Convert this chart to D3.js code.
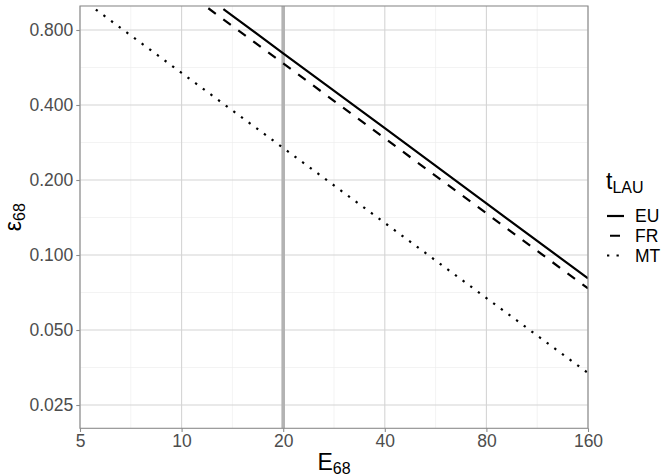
<!DOCTYPE html>
<html>
<head>
<meta charset="utf-8">
<title>epsilon vs E</title>
<script src="https://cdn.jsdelivr.net/npm/d3@7"></script>
<style>
  body { margin: 0; padding: 0; background: #fff; }
  svg text { font-family: "Liberation Sans", Arial, sans-serif; }
</style>
</head>
<body>
<svg id="chart" width="664" height="476"></svg>
<script>

// data
var xTicks = [5, 10, 20, 40, 80, 160];
var yTicks = [0.025, 0.05, 0.1, 0.2, 0.4, 0.8];
var yTickLabels = ['0.025', '0.050', '0.100', '0.200', '0.400', '0.800'];
var seriesNames = ['EU', 'FR', 'MT'];
var euE   = [13.3, 20, 40, 80, 160];
var euEps = [0.970, 0.645, 0.323, 0.161, 0.0806];
var frE   = [12.0, 20, 40, 80, 160];
var frEps = [0.978, 0.5875, 0.294, 0.147, 0.0734];
var mtE   = [5.57, 10, 20, 40, 80, 160];
var mtEps = [0.966, 0.538, 0.269, 0.1345, 0.0672, 0.0336];
var refE = 20;

var pLeft = 80, pRight = 588, pTop = 6, pBottom = 428.3;

var svg = d3.select('#chart');

var x = d3.scaleLog().domain([5, 160]).range([pLeft, pRight]);
var y = d3.scaleLog().domain([0.02016, 0.9986]).range([pBottom, pTop]);

// minor breaks halfway (in log space) between major ones
var xMinor = d3.pairs(xTicks).map(function(p) { return Math.sqrt(p[0] * p[1]); });
var yMinor = d3.pairs(yTicks).map(function(p) { return Math.sqrt(p[0] * p[1]); });

var grid = svg.append('g');
grid.selectAll('.xminor').data(xMinor).enter().append('line')
  .attr('x1', x).attr('x2', x).attr('y1', pTop).attr('y2', pBottom)
  .style('stroke', '#ebebeb').style('stroke-width', 0.6);
grid.selectAll('.yminor').data(yMinor).enter().append('line')
  .attr('y1', y).attr('y2', y).attr('x1', pLeft).attr('x2', pRight)
  .style('stroke', '#ebebeb').style('stroke-width', 0.6);
grid.selectAll('.xmajor').data(xTicks).enter().append('line')
  .attr('x1', x).attr('x2', x).attr('y1', pTop).attr('y2', pBottom)
  .style('stroke', '#d4d4d4').style('stroke-width', 1.1);
grid.selectAll('.ymajor').data(yTicks).enter().append('line')
  .attr('y1', y).attr('y2', y).attr('x1', pLeft).attr('x2', pRight)
  .style('stroke', '#d4d4d4').style('stroke-width', 1.1);

// reference line at E = 20
svg.append('line')
  .attr('x1', x(refE)).attr('x2', x(refE)).attr('y1', pTop).attr('y2', pBottom)
  .style('stroke', '#b3b3b3').style('stroke-width', 3.6);

svg.append('clipPath').attr('id', 'panel')
  .append('rect').attr('x', pLeft).attr('y', pTop)
  .attr('width', pRight - pLeft).attr('height', pBottom - pTop);

var series = [
  { name: 'EU', E: euE, eps: euEps, dash: null },
  { name: 'FR', E: frE, eps: frEps, dash: '9.3,9.3' },
  { name: 'MT', E: mtE, eps: mtEps, dash: '2.3,7.2' }
];

var line = d3.line()
  .x(function(d) { return x(d[0]); })
  .y(function(d) { return y(d[1]); });

svg.append('g').attr('clip-path', 'url(#panel)')
  .selectAll('path').data(series).enter().append('path')
  .attr('d', function(s) { return line(d3.zip(s.E, s.eps)); })
  .style('fill', 'none')
  .style('stroke', '#000')
  .style('stroke-width', 2.2)
  .style('stroke-dasharray', function(s) { return s.dash; });

// panel border
svg.append('rect')
  .attr('x', pLeft).attr('y', pTop)
  .attr('width', pRight - pLeft).attr('height', pBottom - pTop)
  .style('fill', 'none').style('stroke', '#8c8c8c').style('stroke-width', 1.1);

// axes
var xAxis = svg.append('g')
  .attr('transform', 'translate(0,' + pBottom + ')')
  .call(d3.axisBottom(x).tickValues(xTicks).tickFormat(d3.format('d')).tickSize(3.7).tickPadding(3));
var yAxis = svg.append('g')
  .attr('transform', 'translate(' + pLeft + ',0)')
  .call(d3.axisLeft(y).tickValues(yTicks)
    .tickFormat(function(d, i) { return yTickLabels[i]; }).tickSize(3.7).tickPadding(3));
[xAxis, yAxis].forEach(function(a) {
  a.select('.domain').remove();
  a.selectAll('.tick line').style('stroke', '#8c8c8c').style('stroke-width', 1.1);
  a.selectAll('.tick text')
    .style('font-family', '"Liberation Sans", Arial, sans-serif')
    .style('font-size', '17.5px').style('fill', '#4d4d4d');
});

// axis titles
var xt = svg.append('text')
  .attr('x', (pLeft + pRight) / 2).attr('y', 469.5)
  .attr('text-anchor', 'middle')
  .style('font-size', '23px').style('fill', '#000');
xt.append('tspan').text('E');
xt.append('tspan').text('68').attr('dy', 4).style('font-size', '16px');

var yt = svg.append('text')
  .attr('transform', 'translate(20.5,' + ((pTop + pBottom) / 2) + ') rotate(-90)')
  .attr('text-anchor', 'middle')
  .style('font-size', '23px').style('fill', '#000');
yt.append('tspan').text('ε');
yt.append('tspan').text('68').attr('dy', 4).style('font-size', '16px');

// legend
var lt = svg.append('text')
  .attr('x', 606).attr('y', 189)
  .style('font-size', '23px').style('fill', '#000');
lt.append('tspan').text('t');
lt.append('tspan').text('LAU').attr('dy', 4).style('font-size', '16px');

var keyY = d3.scalePoint().domain(seriesNames).range([216, 255.5]);
var key = svg.append('g').selectAll('g').data(series).enter().append('g')
  .attr('transform', function(s) { return 'translate(0,' + keyY(s.name) + ')'; });
key.append('line')
  .attr('x1', 607).attr('x2', 624).attr('y1', 0).attr('y2', 0)
  .style('stroke', '#000').style('stroke-width', 2.2)
  .style('stroke-dasharray', function(s) { return s.name === 'FR' ? '0,3,10,9' : s.dash; });
key.append('text')
  .attr('x', 635).attr('y', 6.2)
  .text(function(s) { return s.name; })
  .style('font-size', '17.5px').style('fill', '#000');

</script>
</body>
</html>
